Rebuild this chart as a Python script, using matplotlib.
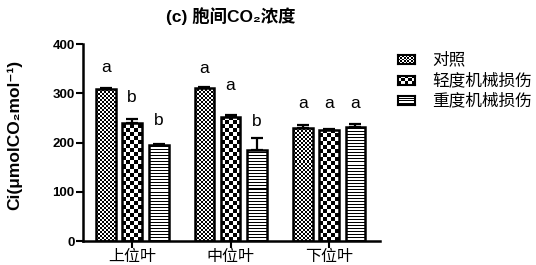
import numpy as np
import matplotlib
matplotlib.use('Agg')
import matplotlib.pyplot as plt

# font: Arial-like for latin, Noto CJK for chinese
plt.rcParams['font.family'] = ['Liberation Sans', 'Noto Sans CJK SC', 'DejaVu Sans']

# data
groups = ['上位叶', '中位叶', '下位叶']
treatments = ['对照', '轻度机械损伤', '重度机械损伤']
ci_mean = [[308, 310, 230],
           [240, 252, 225],
           [195, 185, 232]]
ci_err = [[3, 2, 5],
          [7, 3, 3],
          [1, 25, 6]]
letters = [['a', 'a', 'a'],
           ['b', 'a', 'a'],
           ['b', 'b', 'a']]
letter_y = [[353, 351, 280],
            [292, 315, 280],
            [244, 242, 280]]
yticks = [0, 100, 200, 300, 400]

W, H, DPI = 536, 265, 100
fig = plt.figure(figsize=(W / DPI, H / DPI), dpi=DPI)
ax = fig.add_axes([83 / W, 24 / H, 297 / W, 197 / H])
ax.set_xlim(-0.5, 2.52)
ax.set_ylim(0, 400)

# pixel sizes in data units (for the fill patterns)
px_x = 3.02 / 297
px_y = 400 / 197


def pattern(kind, nx, ny):
    i, j = np.mgrid[0:ny, 0:nx]
    if kind == 'stripes':
        return (i % 3 != 0).astype(float)
    return ((i + j) % 2).astype(float)


cell = {'fine': 2, 'coarse': 4, 'stripes': 1}
kinds = ['fine', 'coarse', 'stripes']

x = np.arange(len(groups))
width = 0.2
offsets = [-0.265, 0.0, 0.27]

for k in range(3):
    bars = ax.bar(x + offsets[k], ci_mean[k], width, facecolor='none',
                  edgecolor='black', linewidth=1.8, zorder=3)
    ax.errorbar(x + offsets[k], ci_mean[k], yerr=[[0, 0, 0], ci_err[k]],
                fmt='none', ecolor='black', elinewidth=1.6, capsize=4.5,
                capthick=1.6, zorder=2)
    for b in bars:
        x0 = b.get_x()
        s = cell[kinds[k]]
        nx = int(np.ceil(b.get_width() / px_x / s)) + 1
        ny = int(np.ceil(b.get_height() / px_y / s)) + 1
        img = ax.imshow(pattern(kinds[k], nx, ny), cmap='gray', vmin=0, vmax=1,
                        interpolation='nearest', aspect='auto', origin='lower',
                        extent=(x0, x0 + nx * s * px_x, 0, ny * s * px_y), zorder=2)
        img.set_clip_path(b)
    for g in range(3):
        ax.text(x[g] + offsets[k], letter_y[k][g], letters[k][g], ha='center',
                va='center', fontsize=12.5)

ax.set_xlim(-0.5, 2.52)
ax.set_ylim(0, 400)
ax.set_yticks(yticks)
ax.set_yticklabels([str(v) for v in yticks], fontweight='bold', fontsize=9.5)
ax.set_xticks(x)
ax.set_xticklabels(groups, fontsize=11.5)
ax.tick_params(axis='both', direction='out', length=5, width=1.5)
ax.tick_params(axis='x', pad=1)
ax.tick_params(axis='y', pad=1)
for sp in ['top', 'right']:
    ax.spines[sp].set_visible(False)
for sp in ['left', 'bottom']:
    ax.spines[sp].set_linewidth(1.8)

ax.set_ylabel('Ci(μmolCO₂mol⁻¹)', fontweight='bold', fontsize=12.5)
ax.yaxis.set_label_coords(-0.205, 0.54)

fig.text(231 / W, 1 - 16 / H, '(c) 胞间CO₂浓度', ha='center', va='center',
         fontsize=12.5, fontweight='bold')

# legend drawn by hand so the swatches can carry the same textures
for k in range(3):
    yc = [59, 80, 100][k]
    sw = fig.add_axes([398 / W, 1 - (yc + 4.5) / H, 17 / W, 9 / H])
    s = cell[kinds[k]]
    sw.imshow(pattern(kinds[k], int(17 / s) + 1, int(9 / s) + 1), cmap='gray',
              vmin=0, vmax=1, interpolation='nearest', aspect='auto', origin='lower')
    sw.set_xticks([])
    sw.set_yticks([])
    for sp in sw.spines.values():
        sp.set_linewidth(1.5)
    fig.text(432 / W, 1 - yc / H, treatments[k], ha='left', va='center', fontsize=12)

fig.savefig('out.png', dpi=DPI)
